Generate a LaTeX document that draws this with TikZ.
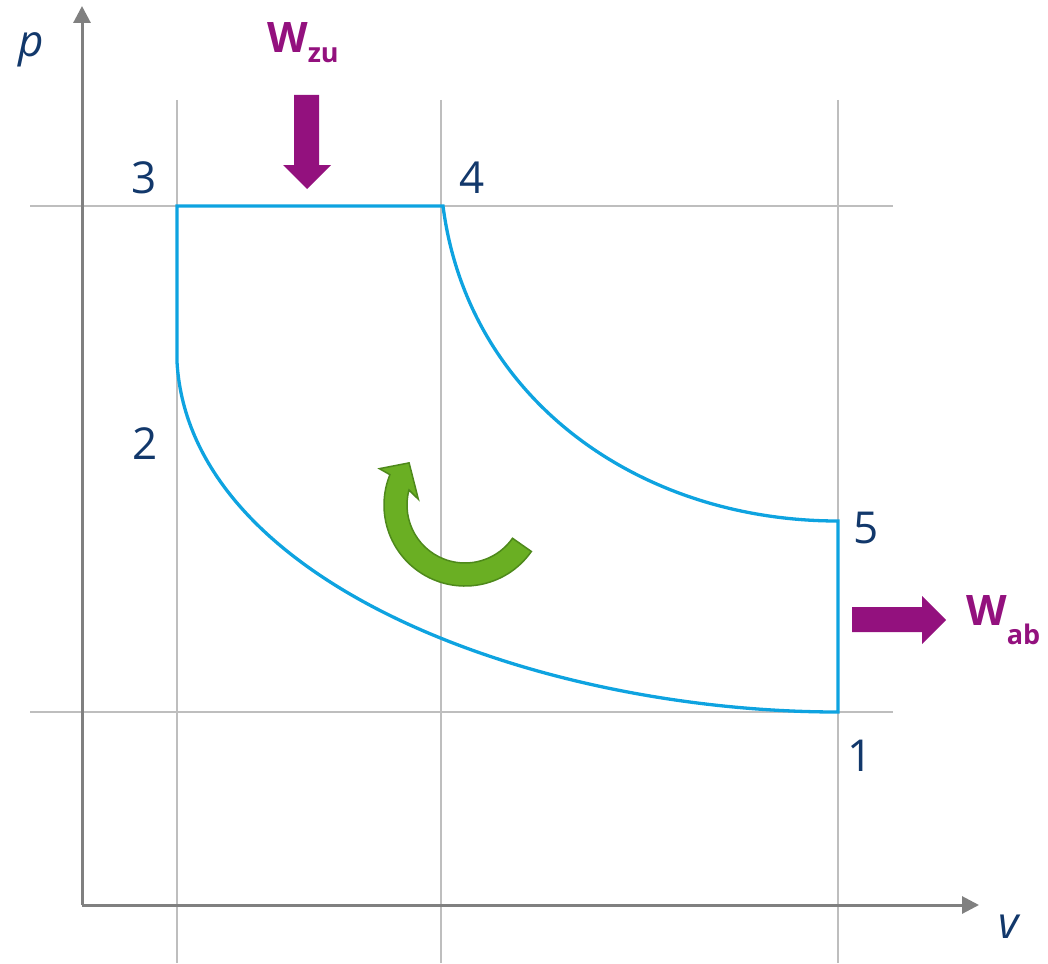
\documentclass[tikz,border=0pt]{standalone}
\usepackage{fontspec}
\setmainfont{Open Sans}
\usetikzlibrary{arrows.meta}
\definecolor{cyc}{HTML}{0EA3E0}
\definecolor{wpur}{HTML}{93117E}
\definecolor{axg}{HTML}{808080}
\definecolor{grd}{HTML}{BEBEBE}
\definecolor{lbl}{HTML}{12386B}
\definecolor{gfill}{HTML}{6AAF23}
\definecolor{gline}{HTML}{4E891B}
\tikzset{
  gridline/.style={draw=grd, line width=1.2pt},
  axis/.style={draw=axg, line width=3pt, -{Triangle[length=17pt,width=17pt]}},
  cycle/.style={draw=cyc, line width=3.3pt, line join=miter},
  num/.style={text=lbl, font=\fontsize{44}{50}\selectfont, anchor=base, inner sep=0pt},
  axlbl/.style={text=lbl, font=\fontsize{44}{50}\selectfont\itshape, anchor=base, inner sep=0pt},
  wlbl/.style={text=wpur, font=\fontsize{42}{48}\selectfont\bfseries, anchor=base west, inner sep=0pt},
  warrow/.style={fill=wpur, draw=none},
  garrow/.style={fill=gfill, draw=gline, line width=1.5pt, line join=miter},
}
\begin{document}
\begin{tikzpicture}[x=1pt,y=-1pt]
\useasboundingbox (0,0) rectangle (1048,963);
% grid
\draw[gridline] (177,100) -- (177,963);
\draw[gridline] (441,100) -- (441,963);
\draw[gridline] (838,100) -- (838,963);
\draw[gridline] (30,206) -- (893,206);
\draw[gridline] (30,712) -- (893,712);
% axes
\coordinate (O) at (82,905);
\coordinate (ytip) at (82,6);
\coordinate (xtip) at (979,905);
\draw[axis] (O) -- (ytip);
\draw[axis] (O) -- (xtip);
\node[axlbl] (p) at (31,57) {p};
\node[axlbl] (v) at (1009,938) {v};
% cycle points
\coordinate (P1) at (838,712);
\coordinate (P2) at (177,362);
\coordinate (P3) at (177,206);
\coordinate (P4) at (443,206);
\coordinate (P5) at (838,521);
\draw[cycle] (P2) -- (P3) -- (P4)
  .. controls (468,400) and (640,521) .. (P5) -- (P1)
  .. controls (540,712) and (190,585) .. (P2);
% labels
\node[num] (n3) at (144,193) {3};
\node[num] (n4) at (472,193) {4};
\node[num] (n2) at (145,459) {2};
\node[num] (n5) at (866,543) {5};
\node[num] (n1) at (860,771) {1};
% W_zu
\node[wlbl] (wzu) at (267,53) {W\fontsize{27}{30}\selectfont\raisebox{-10pt}{zu}};
\fill[warrow] (294,95) -- (319,95) -- (319,165) -- (331,165) -- (307,189) -- (283,165) -- (294,165) -- cycle;
% W_ab
\node[wlbl] (wab) at (966,625) {W\fontsize{27}{30}\selectfont\raisebox{-19pt}{ab}};
\fill[warrow] (852,607) -- (922,607) -- (922,596) -- (946,620) -- (922,644) -- (922,632) -- (852,632) -- cycle;
% green circular arrow
\begin{scope}[shift={(465,505)}, yscale=-1]
\draw[garrow] (-35:81) arc[start angle=-35, end angle=-202, radius=81]
  -- (157:93) -- (143:70) -- (173:47) -- (165:58)
  arc[start angle=-195, end angle=-35, radius=58] -- cycle;
\end{scope}
\end{tikzpicture}
\end{document}
